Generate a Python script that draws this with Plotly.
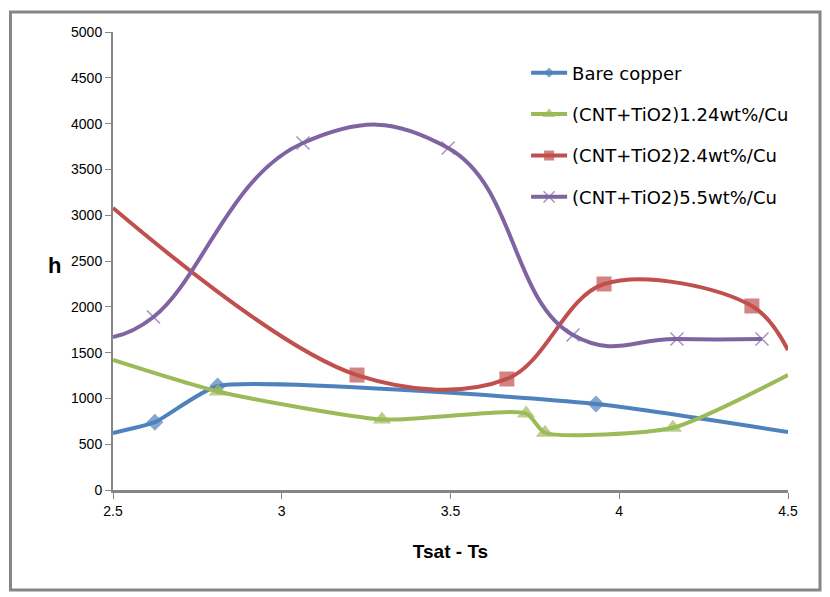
import plotly.graph_objects as go

# ---- data ----
bare_x = [2.5, 2.624, 2.81, 3.931, 4.5]
bare_y = [622, 740, 1135, 939, 633]

cnt124_x = [2.5, 2.811, 3.297, 3.724, 3.78, 4.159, 4.5]
cnt124_y = [1419, 1075, 770, 835, 625, 680, 1255]

cnt24_x = [2.5, 3.223, 3.667, 3.955, 4.393, 4.5]
cnt24_y = [3079, 1255, 1212, 2249, 2009, 1528]

cnt55_x = [2.5, 2.62, 3.063, 3.493, 3.863, 4.171, 4.423]
cnt55_y = [1670, 1889, 3788, 3734, 1692, 1648, 1648]

names = ["Bare copper", "(CNT+TiO2)1.24wt%/Cu", "(CNT+TiO2)2.4wt%/Cu", "(CNT+TiO2)5.5wt%/Cu"]
colors = ["#4F81BD", "#9BBB59", "#C0504D", "#8064A2"]
symbols = ["diamond", "triangle-up", "square", "x-thin-open"]
xtick_vals = [2.5, 3, 3.5, 4, 4.5]
xtick_text = ["2.5", "3", "3.5", "4", "4.5"]


def sizes(xs, s):
    return [0 if x in (2.5, 4.5) else s for x in xs]


series = [(bare_x, bare_y, 13, 0.5), (cnt124_x, cnt124_y, 16, 0.6),
          (cnt24_x, cnt24_y, 15, 1.0), (cnt55_x, cnt55_y, 13, 1.3)]

fig = go.Figure()
for i, ((xs, ys, ms, sm), name, c, sym) in enumerate(zip(series, names, colors, symbols)):
    fig.add_trace(go.Scatter(
        x=xs, y=ys, name=name, mode="lines+markers", legendgroup=f"g{i}",
        line=dict(color=c, width=4, shape="spline", smoothing=sm),
        marker=dict(symbol=sym, size=sizes(xs, ms), color=c,
                    line=dict(color=c, width=1.5 if sym.startswith("x") else 0)),
    ))

fig.update_layout(
    width=830, height=597,
    margin=dict(l=105, r=50, t=24, b=115),
    paper_bgcolor="white", plot_bgcolor="white",
    font=dict(family="Liberation Sans, Arial, sans-serif", color="black"),
    showlegend=True,
    legend=dict(x=0.612, y=0.951, xanchor="left", yanchor="top",
                font=dict(family="DejaVu Sans, sans-serif", size=18),
                tracegroupgap=15, itemwidth=36, bgcolor="rgba(0,0,0,0)"),
    xaxis=dict(range=[2.5, 4.5], tickvals=xtick_vals, ticktext=xtick_text, automargin=False,
               showgrid=False, zeroline=False, showline=True, linecolor="#868686", linewidth=3,
               ticks="outside", ticklen=6, tickcolor="#868686", tickwidth=1,
               tickfont=dict(size=14),
               title=dict(text="<b>Tsat - Ts</b>", font=dict(size=19), standoff=27)),
    yaxis=dict(range=[0, 5000], dtick=500, automargin=False,
               showgrid=False, zeroline=False, showline=True, linecolor="#868686", linewidth=2,
               ticks="outside", ticklen=6, tickcolor="#868686", tickwidth=1,
               tickfont=dict(size=14)),
)

# horizontal y-axis title "h"
fig.add_annotation(text="<b>h</b>", xref="paper", yref="paper", x=-0.087, y=0.49,
                   showarrow=False, font=dict(size=22), xanchor="center", yanchor="middle")

# outer chart border
fig.add_shape(type="rect", xref="paper", yref="paper",
              x0=-0.1519, x1=1.0474, y0=-0.2183, y1=1.0437,
              line=dict(color="#868686", width=3), layer="below")

fig.write_html("out.html")
